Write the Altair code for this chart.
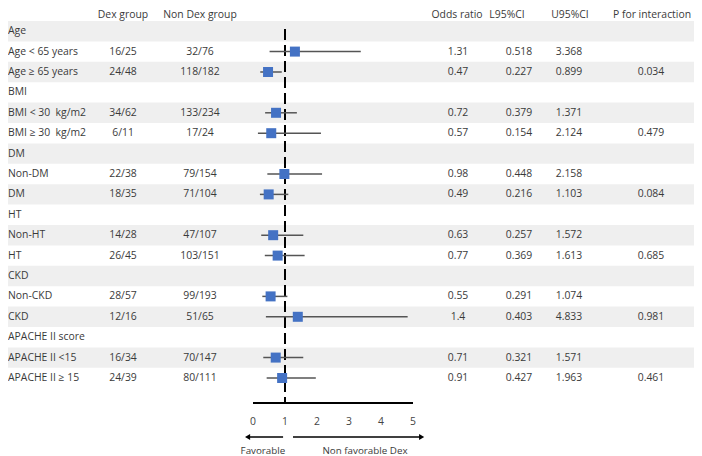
import altair as alt
import pandas as pd

NB = "\u00a0"
labels = ["Age", "Age < 65 years", "Age ≥ 65 years", "BMI", "BMI < 30 " + NB + "kg/m2", "BMI ≥ 30 " + NB + "kg/m2",
          "DM", "Non-DM", "DM", "HT", "Non-HT", "HT", "CKD", "Non-CKD", "CKD",
          "APACHE II score", "APACHE II <15", "APACHE II ≥ 15"]
dex = ["", "16/25", "24/48", "", "34/62", "6/11", "", "22/38", "18/35", "", "14/28", "26/45",
       "", "28/57", "12/16", "", "16/34", "24/39"]
nondex = ["", "32/76", "118/182", "", "133/234", "17/24", "", "79/154", "71/104", "", "47/107", "103/151",
          "", "99/193", "51/65", "", "70/147", "80/111"]
odds = [None, 1.31, 0.47, None, 0.72, 0.57, None, 0.98, 0.49, None, 0.63, 0.77,
        None, 0.55, 1.4, None, 0.71, 0.91]
lower = [None, 0.518, 0.227, None, 0.379, 0.154, None, 0.448, 0.216, None, 0.257, 0.369,
         None, 0.291, 0.403, None, 0.321, 0.427]
upper = [None, 3.368, 0.899, None, 1.371, 2.124, None, 2.158, 1.103, None, 1.572, 1.613,
         None, 1.074, 4.833, None, 1.571, 1.963]
pint = ["", "", "0.034", "", "", "0.479", "", "", "0.084", "", "", "0.685",
        "", "", "0.981", "", "", "0.461"]
ticks = [0, 1, 2, 3, 4, 5]
headers = ["Dex group", "Non Dex group", "Odds ratio", "L95%CI", "U95%CI", "P for interaction"]

rows = []
for i in range(len(labels)):
    rows.append({
        "top": i, "bot": i + 1, "pos": i + 0.5,
        "label": labels[i], "dex": dex[i], "nondex": nondex[i],
        "ORt": "" if odds[i] is None else str(odds[i]),
        "Lt": "" if lower[i] is None else str(lower[i]),
        "Ut": "" if upper[i] is None else str(upper[i]),
        "P": pint[i],
    })
df = pd.DataFrame(rows)
est = pd.DataFrame([{"pos": i + 0.5, "OR": odds[i], "L": lower[i], "U": upper[i]}
                    for i in range(len(labels)) if odds[i] is not None])
shade = df.iloc[::2]

W, H = 686, 448
ysc = alt.Scale(domain=[-0.637, 21.324], range=[0, H], nice=False, zero=False)
xsc = alt.Scale(domain=[0, 5], range=[245, 405], nice=False, zero=False)
FONT = "Open Sans"
TC = "#3a3a3a"
FS = 10.4

bands = alt.Chart(shade).mark_rect(color="#efefef").encode(
    x=alt.value(0), x2=alt.value(W),
    y=alt.Y("top:Q", scale=ysc, axis=None), y2="bot:Q")

refdf = pd.DataFrame({"v": [1]})
ref = alt.Chart(refdf).mark_rule(color="black", strokeWidth=2, strokeDash=[11, 5]).encode(
    x=alt.X("v:Q", scale=xsc, axis=None), y=alt.value(21), y2=alt.value(395))

ci = alt.Chart(est).mark_rule(color="#555555", strokeWidth=1.5).encode(
    x=alt.X("L:Q", scale=xsc, axis=None), x2="U:Q",
    y=alt.Y("pos:Q", scale=ysc, axis=None))

sq = alt.Chart(est).mark_square(color="#4472c4", opacity=1, size=100, filled=True).encode(
    x=alt.X("OR:Q", scale=xsc, axis=None),
    y=alt.Y("pos:Q", scale=ysc, axis=None))

def col(field, xpix, align):
    return alt.Chart(df).mark_text(font=FONT, fontSize=FS, color=TC, align=align, baseline="middle").encode(
        x=alt.value(xpix), y=alt.Y("pos:Q", scale=ysc, axis=None), text=alt.Text(f"{field}:N"))

cols = [col("label", 0, "left"), col("dex", 115, "center"), col("nondex", 192, "center"),
        col("ORt", 450, "center"), col("Lt", 511, "center"), col("Ut", 561, "center"),
        col("P", 643, "center")]

hx = [115, 192, 449, 499, 562, 644]
hdr = [alt.Chart(pd.DataFrame({"t": [t]})).mark_text(font=FONT, fontSize=FS, color=TC, align="center",
                                                      baseline="top").encode(
    x=alt.value(xp), y=alt.value(2), text="t:N") for t, xp in zip(headers, hx)]

axdf = pd.DataFrame({"a": [0], "b": [5]})
axis_line = alt.Chart(axdf).mark_rule(color="black", strokeWidth=2).encode(
    x=alt.X("a:Q", scale=xsc, axis=None), x2="b:Q", y=alt.value(395))
tdf = pd.DataFrame({"t": ticks})
tick_text = alt.Chart(tdf).mark_text(font=FONT, fontSize=FS, color="#444", baseline="middle").encode(
    x=alt.X("t:Q", scale=xsc, axis=None), y=alt.value(414), text="t:N")

arr = pd.DataFrame({"a": [-0.12, 1.25], "b": [0.94, 5.22]})
arrows = alt.Chart(arr).mark_rule(color="black", strokeWidth=1.5).encode(
    x=alt.X("a:Q", scale=xsc, axis=None), x2="b:Q", y=alt.value(429))
lh = pd.DataFrame({"h": [-0.17]})
rh = pd.DataFrame({"h": [5.27]})
lhead = alt.Chart(lh).mark_point(shape="triangle-left", filled=True, color="black",
                                 opacity=1, size=35).encode(
    x=alt.X("h:Q", scale=xsc, axis=None), y=alt.value(429))
rhead = alt.Chart(rh).mark_point(shape="triangle-right", filled=True, color="black",
                                 opacity=1, size=35).encode(
    x=alt.X("h:Q", scale=xsc, axis=None), y=alt.value(429))
lab = pd.DataFrame({"p": [0.31, 3.5], "t": ["Favorable", "Non favorable Dex"]})
labs = alt.Chart(lab).mark_text(font=FONT, fontSize=9.8, color=TC, baseline="middle").encode(
    x=alt.X("p:Q", scale=xsc, axis=None), y=alt.value(443), text="t:N")

chart = alt.layer(bands, ref, ci, sq, *cols, *hdr, axis_line, tick_text,
                  arrows, lhead, rhead, labs).properties(
    width=W, height=H, autosize=alt.AutoSizeParams(type="none"), padding=0
).configure_view(stroke=None)

chart.save("out.html", embed_options={"renderer": "svg", "actions": False})
